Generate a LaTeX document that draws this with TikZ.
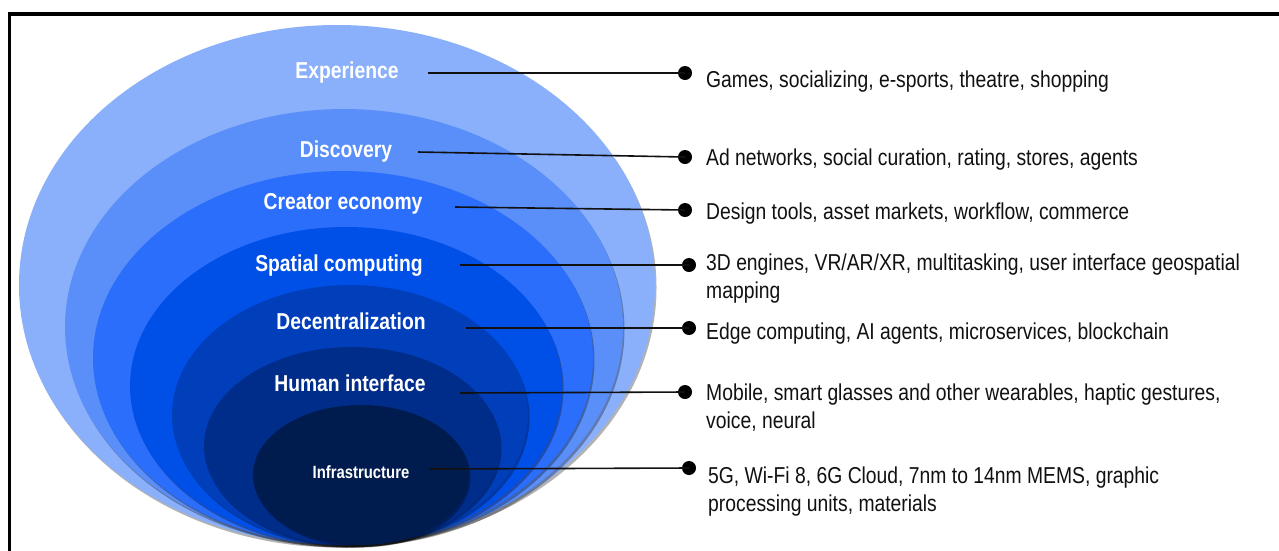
\documentclass[tikz,border=0pt]{standalone}
\usepackage{fontspec}
\setmainfont{Liberation Sans}[FakeStretch=0.84]
\usetikzlibrary{shapes.geometric,shadows}

% layer colours, outermost to innermost
\definecolor{lay1}{HTML}{8AB0FC}
\definecolor{lay2}{HTML}{5A8FF9}
\definecolor{lay3}{HTML}{2B6EFB}
\definecolor{lay4}{HTML}{0050E8}
\definecolor{lay5}{HTML}{003EBA}
\definecolor{lay6}{HTML}{002C8A}
\definecolor{lay7}{HTML}{001B4D}
\definecolor{ink}{HTML}{111111}

\begin{document}
\begin{tikzpicture}[x=1pt,y=-1pt,
  layer/.style={ellipse, inner sep=0pt, draw=none,
    drop shadow={shadow xshift=1.5pt, shadow yshift=-2.5pt, opacity=0.3, fill=black}},
  tag/.style={inner sep=0pt, text=white, font=\bfseries\fontsize{23}{27}\selectfont},
  dot/.style={circle, fill=black, minimum size=14pt, inner sep=0pt},
  conn/.style={draw=ink, line width=1.6pt},
  note/.style={inner sep=0pt, text=ink, align=left,
    font=\fontsize{23}{28}\selectfont},
  frame/.style={line width=3.5pt, draw=black}
]
\useasboundingbox (0,0) rectangle (1279,550);
\fill[white] (0,0) rectangle (1279,550);

% border
\draw[frame] (9.5,556) -- (9.5,14) -- (1285,14);

% nested layers
\node[layer, fill=lay1, minimum width=636pt, minimum height=520pt] (l1) at (337,285) {};
\node[layer, fill=lay2, minimum width=558pt, minimum height=436pt] (l2) at (344,327) {};
\node[layer, fill=lay3, minimum width=500pt, minimum height=374pt] (l3) at (343,358) {};
\node[layer, fill=lay4, minimum width=432pt, minimum height=318pt] (l4) at (346,386) {};
\node[layer, fill=lay5, minimum width=356pt, minimum height=260pt] (l5) at (350,415) {};
\node[layer, fill=lay6, minimum width=296pt, minimum height=198pt] (l6) at (352,446) {};
\node[layer, fill=lay7, minimum width=216pt, minimum height=140pt] (l7) at (361,475) {};

% layer names
\node[tag] (t1) at (347,73) {Experience};
\node[tag] (t2) at (346,152) {Discovery};
\node[tag] (t3) at (343,204) {Creator economy};
\node[tag] (t4) at (339,266) {Spatial computing};
\node[tag] (t5) at (351,321) {Decentralization};
\node[tag] (t6) at (350,383) {Human interface};
\node[tag, font=\bfseries\fontsize{17.7}{21}\selectfont] (t7) at (361,472) {Infrastructure};

% connector starts
\coordinate (s1) at (428,73);
\coordinate (s2) at (418,152);
\coordinate (s3) at (455,207);
\coordinate (s4) at (460,265);
\coordinate (s5) at (466,328);
\coordinate (s6) at (460,393);
\coordinate (s7) at (429,469);

% end dots
\node[dot] (d1) at (685,73) {};
\node[dot] (d2) at (685,157) {};
\node[dot] (d3) at (685,210) {};
\node[dot] (d4) at (689,265) {};
\node[dot] (d5) at (689,328) {};
\node[dot] (d6) at (685,392) {};
\node[dot] (d7) at (689,468) {};

\foreach \i in {1,...,7} { \draw[conn] (s\i) -- (d\i.center); }

% descriptions (base anchor of a two-line note sits on its last line)
\node[note, anchor=base west] (r1) at (706,87) {Games, socializing, e-sports, theatre, shopping};
\node[note, anchor=base west] (r2) at (706,165) {Ad networks, social curation, rating, stores, agents};
\node[note, anchor=base west] (r3) at (706,219) {Design tools, asset markets, workflow, commerce};
\node[note, anchor=base west] (r4) at (706,298) {3D engines, VR/AR/XR, multitasking, user interface geospatial\\mapping};
\node[note, anchor=base west] (r5) at (706,339) {Edge computing, AI agents, microservices, blockchain};
\node[note, anchor=base west] (r6) at (706,428) {Mobile, smart glasses and other wearables, haptic gestures,\\voice, neural};
\node[note, anchor=base west] (r7) at (708,511) {5G, Wi-Fi 8, 6G Cloud, 7nm to 14nm MEMS, graphic\\processing units, materials};
\end{tikzpicture}
\end{document}
